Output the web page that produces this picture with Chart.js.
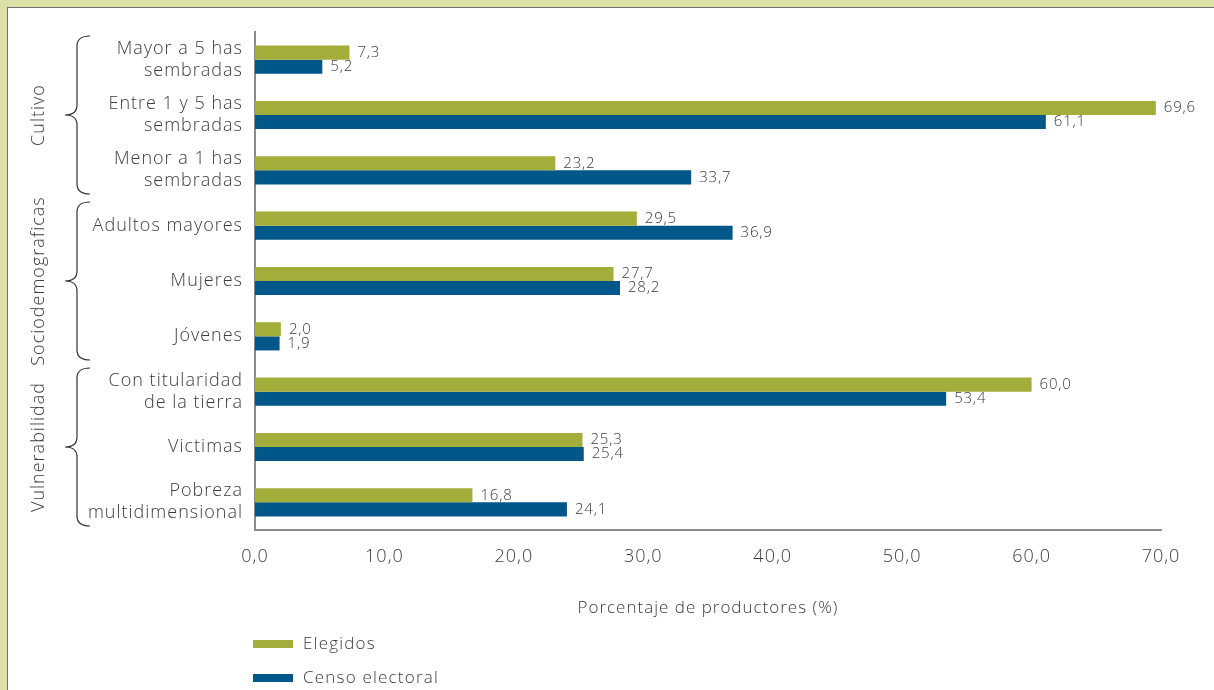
<!DOCTYPE html>
<html>
<head>
<meta charset="utf-8">
<script src="https://cdn.jsdelivr.net/npm/chart.js@4.4.1/dist/chart.umd.min.js"></script>
<style>
  html, body { margin: 0; padding: 0; background: #dde0a6; overflow: hidden; }
  #frame {
    position: absolute; left: 7px; top: 7px; right: 0; bottom: 0;
    background: #fff; border-left: 1px solid #6f6f6f; border-top: 1px solid #6f6f6f;
  }
  #wrap { position: absolute; left: 0; top: 0; width: 1206px; height: 682px; }
</style>
</head>
<body>
<div id="frame"><div id="wrap"><canvas id="myChart"></canvas></div></div>
<script>
const categories = [
    ['Mayor a 5 has', 'sembradas'],
    ['Entre 1 y 5 has', 'sembradas'],
    ['Menor a 1 has', 'sembradas'],
    'Adultos mayores',
    'Mujeres',
    'Jóvenes',
    ['Con titularidad', 'de la tierra'],
    'Victimas',
    ['Pobreza', 'multidimensional']
];
const elegidos = [7.3, 69.6, 23.2, 29.5, 27.7, 2.0, 60.0, 25.3, 16.8];
const censo = [5.2, 61.1, 33.7, 36.9, 28.2, 1.9, 53.4, 25.4, 24.1];
const groups = [
    { label: 'Cultivo', from: 0, to: 2 },
    { label: 'Sociodemograficas', from: 3, to: 5 },
    { label: 'Vulnerabilidad', from: 6, to: 8 }
];
const xTicks = [0, 10, 20, 30, 40, 50, 60, 70];

const FONT = '"Open Sans", Lato, sans-serif';
const TEXT = '#3c3c3c';
const fmt = v => v.toFixed(1).replace('.', ',');

// letra algo más espaciada, como la tipografía original
const spacing = {
    id: 'spacing',
    beforeDraw(chart) { chart.ctx.letterSpacing = '1px'; }
};

// etiquetas de valor al final de cada barra
const valueLabels = {
    id: 'valueLabels',
    afterDatasetsDraw(chart) {
        const c = chart.ctx;
        c.save();
        c.font = '300 15px ' + FONT;
        c.letterSpacing = '0.8px';
        c.fillStyle = TEXT;
        c.textBaseline = 'middle';
        chart.data.datasets.forEach((ds, i) => {
            chart.getDatasetMeta(i).data.forEach((bar, j) => {
                c.fillText(fmt(ds.data[j]), bar.x + 8, bar.y);
            });
        });
        c.restore();
    }
};

// llaves y nombres de grupo a la izquierda
const groupBraces = {
    id: 'groupBraces',
    afterDraw(chart) {
        const c = chart.ctx;
        const y = chart.scales.y;
        const half = (y.getPixelForValue(1) - y.getPixelForValue(0)) / 2;
        c.save();
        c.strokeStyle = '#333';
        c.lineWidth = 1.2;
        groups.forEach(g => {
            const top = y.getPixelForValue(g.from) - half + 4;
            const bot = y.getPixelForValue(g.to) + half - 4;
            const mid = (top + bot) / 2;
            const xr = 82, xm = 69, xt = 57, r = 10;
            c.beginPath();
            c.moveTo(xr, top);
            c.quadraticCurveTo(xm, top, xm, top + r);
            c.lineTo(xm, mid - r);
            c.quadraticCurveTo(xm, mid, xt, mid);
            c.quadraticCurveTo(xm, mid, xm, mid + r);
            c.lineTo(xm, bot - r);
            c.quadraticCurveTo(xm, bot, xr, bot);
            c.stroke();

            c.save();
            c.translate(31, mid);
            c.rotate(-Math.PI / 2);
            c.font = '300 18px ' + FONT;
            c.letterSpacing = '1px';
            c.fillStyle = TEXT;
            c.textAlign = 'center';
            c.textBaseline = 'middle';
            c.fillText(g.label, 0, 0);
            c.restore();
        });
        c.restore();
    }
};

// leyenda vertical abajo a la izquierda
const stackedLegend = {
    id: 'stackedLegend',
    afterDraw(chart) {
        const c = chart.ctx;
        const x0 = chart.chartArea.left - 2;
        c.save();
        c.font = '300 17px ' + FONT;
        c.letterSpacing = '1.2px';
        c.textBaseline = 'middle';
        chart.data.datasets.forEach((ds, i) => {
            const yc = 636 + i * 34;
            c.fillStyle = ds.backgroundColor;
            c.fillRect(x0, yc - 4, 40, 8);
            c.fillStyle = TEXT;
            c.fillText(ds.label, x0 + 50, yc);
        });
        c.restore();
    }
};

const ctx = document.getElementById('myChart').getContext('2d');
const chart = new Chart(ctx, {
    type: 'bar',
    data: {
        labels: categories,
        datasets: [
            { label: 'Elegidos', data: elegidos, backgroundColor: '#a3ad3a' },
            { label: 'Censo electoral', data: censo, backgroundColor: '#02578a' }
        ]
    },
    options: {
        indexAxis: 'y',
        animation: false,
        responsive: true,
        maintainAspectRatio: false,
        datasets: {
            bar: { barPercentage: 1, categoryPercentage: 0.51 }
        },
        layout: {
            padding: { left: 47, top: 24, right: 53, bottom: 60 }
        },
        plugins: {
            legend: { display: false },
            tooltip: { enabled: false }
        },
        scales: {
            x: {
                min: 0,
                max: 70,
                afterBuildTicks: s => { s.ticks = xTicks.map(v => ({ value: v })); },
                afterFit: s => { s.height = 100; },
                grid: { display: false, drawTicks: false },
                border: { color: '#8a8a8a', width: 2 },
                ticks: {
                    padding: 16,
                    color: TEXT,
                    font: { family: FONT, size: 18, weight: 300 },
                    callback: v => fmt(v)
                },
                title: {
                    display: true,
                    text: 'Porcentaje de productores (%)',
                    color: TEXT,
                    font: { family: FONT, size: 17, weight: 300 },
                    padding: { top: 0, bottom: 12 }
                }
            },
            y: {
                afterFit: s => {
                    s.width = 200;
                    s.paddingTop = 0;
                    s.paddingBottom = 0;
                },
                grid: { display: false, drawTicks: false },
                border: { color: '#8a8a8a', width: 2 },
                ticks: {
                    padding: 12,
                    color: TEXT,
                    font: { family: FONT, size: 18, weight: 300, lineHeight: 1.22 }
                }
            }
        }
    },
    plugins: [spacing, valueLabels, groupBraces, stackedLegend]
});
</script>
</body>
</html>
